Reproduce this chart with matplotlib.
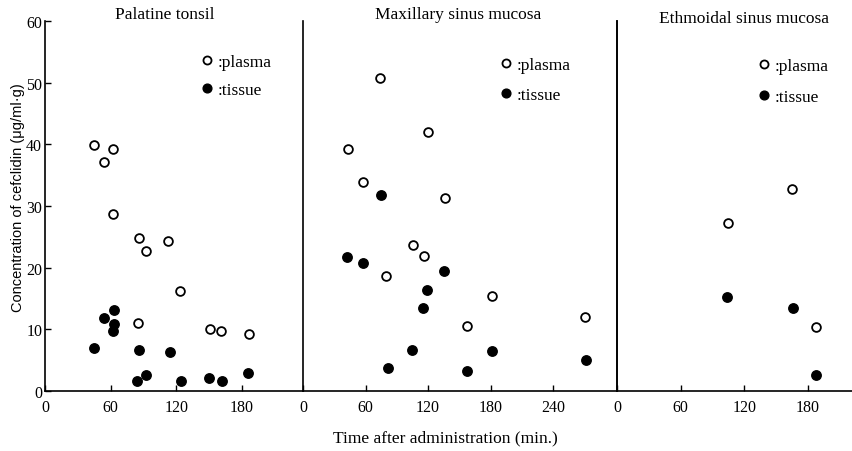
import matplotlib
matplotlib.use("Agg")
import matplotlib.pyplot as plt
from matplotlib.lines import Line2D

plt.rcParams['font.family'] = ['Liberation Serif', 'DejaVu Serif']

# ---- data (time in min, concentration in ug/ml·g) ----
titles = ["Palatine tonsil", "Maxillary sinus mucosa", "Ethmoidal sinus mucosa"]

tonsil_plasma_t = [45, 54, 62, 62, 86, 92, 112, 123, 85, 151, 161, 186]
tonsil_plasma_c = [39.9, 37.1, 39.2, 28.7, 24.8, 22.7, 24.3, 16.2, 11.1, 10.1, 9.7, 9.2]
tonsil_tissue_t = [63, 54, 63, 62, 45, 86, 114, 84, 92, 124, 150, 162, 185]
tonsil_tissue_c = [13.1, 11.9, 10.9, 9.7, 7.0, 6.7, 6.3, 1.7, 2.6, 1.7, 2.1, 1.6, 2.9]

maxillary_plasma_t = [74, 120, 43, 58, 136, 106, 116, 80, 181, 157, 271]
maxillary_plasma_c = [50.7, 42.0, 39.3, 33.9, 31.3, 23.7, 21.9, 18.6, 15.4, 10.6, 12.0]
maxillary_tissue_t = [75, 42, 58, 135, 119, 115, 105, 181, 82, 157, 272]
maxillary_tissue_c = [31.8, 21.8, 20.7, 19.5, 16.3, 13.4, 6.6, 6.5, 3.7, 3.2, 5.1]

ethmoidal_plasma_t = [165, 105, 188]
ethmoidal_plasma_c = [32.7, 27.2, 10.4]
ethmoidal_tissue_t = [104, 166, 188]
ethmoidal_tissue_c = [15.2, 13.5, 2.6]

x_ticks = [[0, 60, 120, 180], [0, 60, 120, 180, 240], [0, 60, 120, 180]]
y_ticks = [0, 10, 20, 30, 40, 50, 60]

panels = [
    (tonsil_plasma_t, tonsil_plasma_c, tonsil_tissue_t, tonsil_tissue_c),
    (maxillary_plasma_t, maxillary_plasma_c, maxillary_tissue_t, maxillary_tissue_c),
    (ethmoidal_plasma_t, ethmoidal_plasma_c, ethmoidal_tissue_t, ethmoidal_tissue_c),
]

# ---- layout ----
W, H = 853, 452
fig = plt.figure(figsize=(W / 100, H / 100), dpi=100)
bottom_px, top_px = 392, 22
bounds = [(45, 303), (303, 617), (617, 853)]
xlims = [(0, 235.6), (0, 301.3), (0, 222.4)]
leg_pos = [(0.605, 0.912), (0.627, 0.902), (0.599, 0.900)]
leg_spacing = [0.72, 0.78, 0.85]
title_off = [7, 7, 3]
title_x = [0.465, 0.495, 0.54]

for i, ((x0, x1), (pt, pc, tt, tc)) in enumerate(zip(bounds, panels)):
    ax = fig.add_axes([x0 / W, 1 - bottom_px / H, (x1 - x0) / W, (bottom_px - top_px) / H])
    ax.plot(pt, pc, linestyle='none', marker='o', markersize=6.3,
            markerfacecolor='white', markeredgecolor='black', markeredgewidth=1.3)
    ax.plot(tt, tc, linestyle='none', marker='o', markersize=6.8,
            markerfacecolor='black', markeredgecolor='black')
    ax.set_xlim(*xlims[i])
    ax.set_ylim(0, 60)
    ax.set_xticks(x_ticks[i])
    ax.set_xticklabels([str(v) for v in x_ticks[i]], fontsize=11.5)
    ax.tick_params(axis='x', direction='in', length=4, width=1, pad=6)
    ax.spines['top'].set_visible(False)
    ax.spines['left'].set_visible(i != 1)
    ax.spines['right'].set_visible(i != 2)
    for s in ax.spines.values():
        s.set_linewidth(1.2)
    if i == 0:
        ax.set_yticks(y_ticks)
        ax.set_yticklabels([str(v) for v in y_ticks], fontsize=11.5)
        ax.tick_params(axis='y', direction='in', length=4, width=1, pad=2)
    else:
        ax.set_yticks([])
    ax.set_facecolor('none')
    ax.text(title_x[i], 1.0 + title_off[i] / 370, titles[i], transform=ax.transAxes,
            ha='center', va='center', fontsize=12.5)
    handles = [
        Line2D([], [], linestyle='none', marker='o', markersize=5.8,
               markerfacecolor='white', markeredgecolor='black', markeredgewidth=1.3),
        Line2D([], [], linestyle='none', marker='o', markersize=6.3,
               markerfacecolor='black', markeredgecolor='black'),
    ]
    ax.legend(handles, [':plasma', ':tissue'], loc='upper left', bbox_to_anchor=leg_pos[i],
              frameon=False, fontsize=12.5, handlelength=0.7, handletextpad=0.25,
              borderpad=0, borderaxespad=0, labelspacing=leg_spacing[i])

fig.text(445 / W, 1 - 438 / H, "Time after administration (min.)", ha='center', va='center',
         fontsize=12.5)
fig.text(18 / W, 1 - 198 / H, "Concentration of cefclidin (\u03bcg/ml\u00b7g)", rotation=90,
         ha='center', va='center', fontsize=10.5, family=['Liberation Sans', 'DejaVu Sans'])

fig.savefig("out.png", dpi=100)
